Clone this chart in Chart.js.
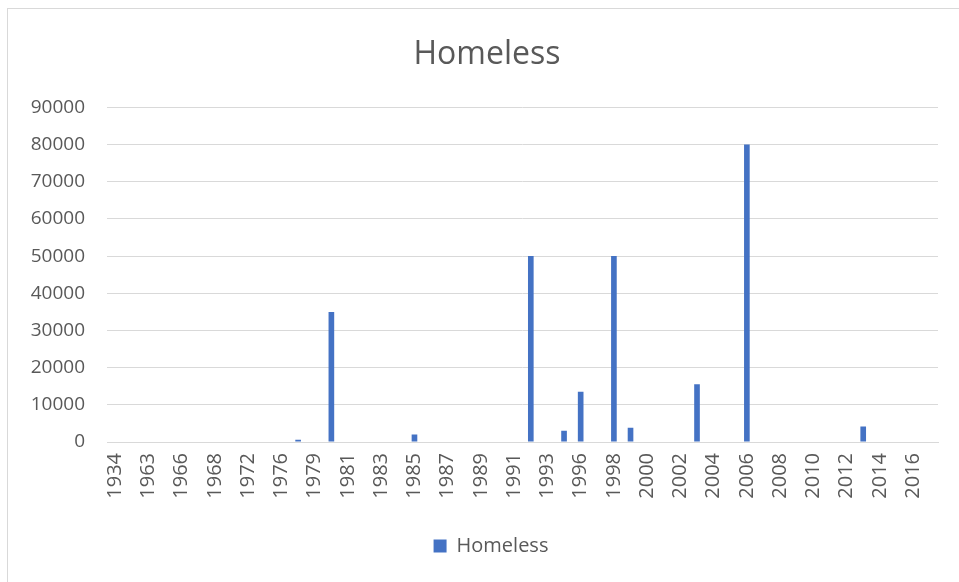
<!DOCTYPE html>
<html>
<head>
<meta charset="utf-8">
<title>Homeless</title>
<script src="https://cdn.jsdelivr.net/npm/chart.js@4.4.1/dist/chart.umd.min.js"></script>
<style>
  html, body { margin: 0; padding: 0; background: #fff; overflow: hidden; }
  #frame {
    position: absolute; left: 7px; top: 8px;
    width: 980px; height: 600px;
    border: 1px solid #d9d9d9;
    background: #fff;
  }
  #wrap { position: absolute; left: 0; top: 0; width: 952px; height: 573px; }
</style>
</head>
<body>
<div id="frame">
  <div id="wrap"><canvas id="barChart"></canvas></div>
</div>
<script>
// years on the category axis (only every other one gets a label)
const years = [
  "1934", "1960", "1963", "1965", "1966", "1967", "1968", "1970", "1972", "1974",
  "1976", "1978", "1979", "1980", "1981", "1982", "1983", "1984", "1985", "1986",
  "1987", "1988", "1989", "1990", "1991", "1992", "1993", "1995", "1996", "1997",
  "1998", "1999", "2000", "2001", "2002", "2003", "2004", "2005", "2006", "2007",
  "2008", "2009", "2010", "2011", "2012", "2013", "2014", "2015", "2016", "2017"
];

// people made homeless per year
const homeless = [
  null, null, null, null, null, null, null, null, null, null,
  null, 600, null, 35000, null, null, null, null, 2000, null,
  null, null, null, null, null, 50000, null, 3000, 13500, null,
  50000, 3800, null, null, null, 15500, null, null, 80000, null,
  null, null, null, null, null, 4200, null, null, null, null
];

const yTicks = { min: 0, max: 90000, step: 10000 };

const grey = "#595959";
const lineGrey = "#d9d9d9";
const fontFamily = "'Open Sans', 'Noto Sans', sans-serif";

// title and legend sit centred on the whole frame, not on the padded box
const centreOnFrame = {
  id: "centreOnFrame",
  afterLayout(chart) {
    chart.titleBlock.left += 14;
    chart.titleBlock.right += 14;
    chart.legend.left += 18;
    chart.legend.right += 18;
  }
};

let ctx = document.getElementById("barChart").getContext("2d");
let myBarChart = new Chart(ctx, {
  type: "bar",
  data: {
    labels: years,
    datasets: [
      {
        label: "Homeless",
        data: homeless,
        backgroundColor: "#4472c4",
        borderWidth: 0,
        categoryPercentage: 1,
        barPercentage: 0.34
      }
    ]
  },
  plugins: [centreOnFrame],
  options: {
    responsive: true,
    maintainAspectRatio: false,
    animation: false,
    layout: { padding: { left: 0, right: 22, top: 0, bottom: 16 } },
    plugins: {
      title: {
        display: true,
        text: "Homeless",
        color: grey,
        font: { family: fontFamily, size: 32, weight: "normal" },
        padding: { top: 27, bottom: 33 }
      },
      legend: {
        position: "bottom",
        labels: {
          color: grey,
          font: { family: fontFamily, size: 20 },
          boxWidth: 13,
          boxHeight: 13,
          padding: 10
        }
      },
      tooltip: { enabled: false }
    },
    scales: {
      x: {
        grid: { display: false },
        border: { display: true, color: lineGrey, width: 1 },
        ticks: {
          autoSkip: false,
          maxRotation: 90,
          minRotation: 90,
          padding: 3,
          color: grey,
          font: { family: fontFamily, size: 20 },
          callback: function (value, index) {
            return index % 2 === 0 ? this.getLabelForValue(value) : "";
          }
        },
        afterFit: function (scale) { scale.height = 84; }
      },
      y: {
        min: yTicks.min,
        max: yTicks.max,
        grid: { color: lineGrey, lineWidth: 1, drawTicks: false },
        border: { display: false },
        ticks: {
          stepSize: yTicks.step,
          padding: 22,
          color: grey,
          font: { family: fontFamily, size: 19 },
          callback: (value) => String(value)
        },
        afterFit: function (scale) { scale.width = 99; }
      }
    }
  }
});
</script>
</body>
</html>
